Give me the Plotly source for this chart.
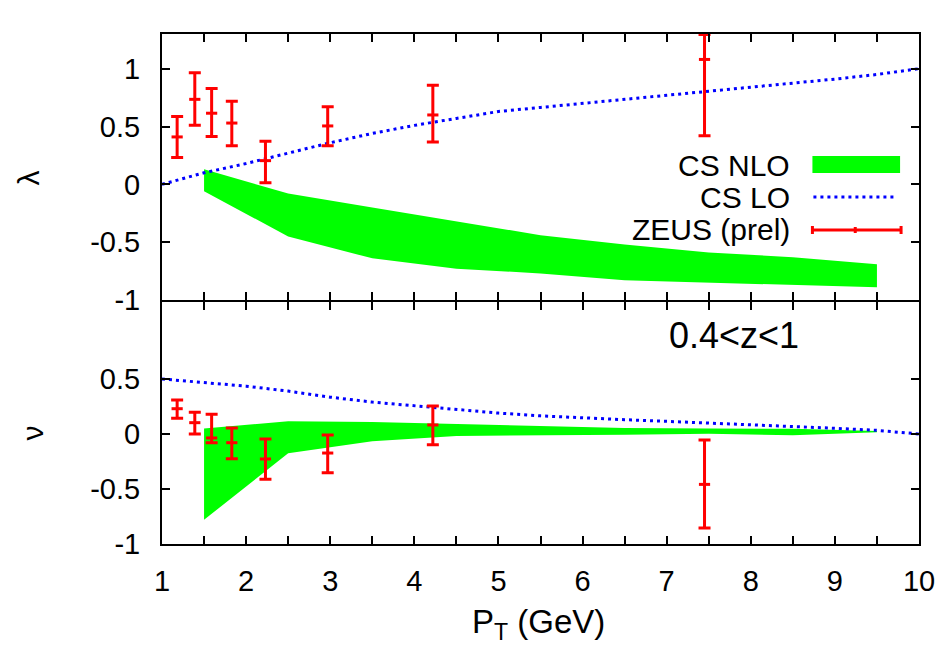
import numpy as np
import plotly.graph_objects as go

# ---------------- data ----------------
# ZEUS (prel) data points
zeus_pt = [1.18, 1.39, 1.59, 1.83, 2.23, 2.97, 4.22, 7.45]
lam_val = [0.41, 0.735, 0.615, 0.53, 0.205, 0.505, 0.60, 1.08]
lam_hi = [0.586, 0.966, 0.828, 0.718, 0.373, 0.672, 0.856, 1.296]
lam_lo = [0.233, 0.511, 0.414, 0.333, 0.014, 0.333, 0.367, 0.42]
nu_val = [0.23, 0.103, -0.036, -0.079, -0.227, -0.173, 0.082, -0.458]
nu_hi = [0.309, 0.197, 0.179, 0.055, -0.045, -0.009, 0.255, -0.055]
nu_lo = [0.143, 0.0, -0.079, -0.224, -0.412, -0.352, -0.097, -0.855]

# CS LO curves
lo_pt = [1, 1.5, 2, 2.5, 3, 3.5, 4, 4.5, 5, 5.5, 6, 6.5, 7, 7.5, 8, 8.5, 9, 9.5, 10]
lam_cslo = [0, 0.1, 0.18, 0.27, 0.36, 0.44, 0.51, 0.57, 0.63, 0.665, 0.70, 0.735,
            0.765, 0.80, 0.84, 0.875, 0.91, 0.95, 1.0]
nu_cslo = [0.5, 0.47, 0.435, 0.39, 0.335, 0.29, 0.255, 0.22, 0.19, 0.165, 0.145,
           0.13, 0.115, 0.1, 0.083, 0.068, 0.052, 0.033, 0.0]

# CS NLO bands
nlo_pt = [1.5, 2.5, 3.5, 4.5, 5.5, 6.5, 7.5, 8.5, 9.5]
lam_nlo_up = [0.13, -0.08, -0.20, -0.32, -0.44, -0.52, -0.59, -0.63, -0.69]
lam_nlo_dn = [-0.06, -0.45, -0.64, -0.73, -0.77, -0.83, -0.85, -0.87, -0.89]
nu_nlo_up = [0.05, 0.115, 0.11, 0.09, 0.075, 0.055, 0.05, 0.048, 0.027]
nu_nlo_dn = [-0.78, -0.175, -0.067, -0.018, -0.015, -0.006, 0.003, -0.012, 0.015]

x_ticks = [1, 2, 3, 4, 5, 6, 7, 8, 9, 10]
lam_ticks = [-1, -0.5, 0, 0.5, 1]
lam_tick_text = ["-1", "-0.5", "0", "0.5", "1"]
nu_ticks = [-1, -0.5, 0, 0.5]
nu_tick_text = ["-1", "-0.5", "0", "0.5"]

# ---------------- styling ----------------
W, H = 947, 647
ML, MR, MT, MB = 162, 25, 34, 103
PW, PH = W - ML - MR, H - MT - MB
FONT = "Liberation Sans"
GREEN = "#00ff00"
BLUE = "#0000ff"
RED = "#ff0000"
DOT = "3px,4px"
# bottom panel top edge at pixel 302, top panel bottom edge at pixel 300
# (axis lines are drawn outside the plot area, so both frame lines coincide)
bottom_top = 242 / PH
top_bottom = 244 / PH


def px(xp):
    return (xp - ML) / PW


def py(yp):
    return (H - MB - yp) / PH


fig = go.Figure()


def band(x, up, dn, xa, ya):
    fig.add_trace(go.Scatter(
        x=list(x) + list(x)[::-1], y=list(up) + list(dn)[::-1],
        fill="toself", fillcolor=GREEN, line=dict(width=0, color=GREEN),
        mode="lines", xaxis=xa, yaxis=ya, showlegend=False, hoverinfo="skip"))


def curve(x, y, xa, ya):
    fig.add_trace(go.Scatter(
        x=x, y=y, mode="lines", line=dict(color=BLUE, width=3, dash=DOT),
        xaxis=xa, yaxis=ya, showlegend=False))


def points(x, v, hi, lo, xa, ya):
    v = np.array(v)
    fig.add_trace(go.Scatter(
        x=x, y=v, mode="markers",
        marker=dict(symbol="line-ew", size=8, color=RED, line=dict(color=RED, width=3)),
        error_y=dict(type="data", symmetric=False, array=np.array(hi) - v,
                     arrayminus=v - np.array(lo), color=RED, thickness=3, width=6),
        xaxis=xa, yaxis=ya, showlegend=False))


# top panel (lambda)
band(nlo_pt, lam_nlo_up, lam_nlo_dn, "x2", "y2")
curve(lo_pt, lam_cslo, "x2", "y2")
points(zeus_pt, lam_val, lam_hi, lam_lo, "x2", "y2")
# bottom panel (nu)
band(nlo_pt, nu_nlo_up, nu_nlo_dn, "x", "y")
curve(lo_pt, nu_cslo, "x", "y")
points(zeus_pt, nu_val, nu_hi, nu_lo, "x", "y")

axis_common = dict(showline=True, linewidth=2, linecolor="black", mirror="ticks",
                   ticks="inside", ticklen=8, tickwidth=1.5, tickcolor="black",
                   showgrid=False, zeroline=False,
                   tickfont=dict(family=FONT, size=29, color="black"))
minor_x = dict(dtick=0.5, ticks="inside", ticklen=8, tickwidth=1.5, tickcolor="black")

fig.update_layout(
    width=W, height=H,
    margin=dict(l=ML, r=MR, t=MT, b=MB, pad=0),
    plot_bgcolor="white", paper_bgcolor="white",
    font=dict(family=FONT, size=29, color="black"),
    showlegend=False,
    xaxis=dict(range=[1, 10], anchor="y", tickvals=x_ticks, ticklabelstandoff=10,
               minor=minor_x, **axis_common),
    xaxis2=dict(range=[1, 10], anchor="y2", matches="x", tickvals=x_ticks,
                showticklabels=False, minor=minor_x, **axis_common),
    yaxis=dict(domain=[0, bottom_top], range=[-1, 1.2], tickvals=nu_ticks,
               ticktext=nu_tick_text, ticklabelstandoff=14, anchor="x", **axis_common),
    yaxis2=dict(domain=[top_bottom, 1], range=[-1, 1.3], tickvals=lam_ticks,
                ticktext=lam_tick_text, ticklabelstandoff=14, anchor="x2", **axis_common),
)

ann = []
# axis titles
ann.append(dict(text="P<sub>T</sub> (GeV)", x=px(540), y=py(624), xref="paper", yref="paper",
                showarrow=False, xanchor="center", yanchor="middle",
                font=dict(family=FONT, size=33, color="black")))
ann.append(dict(text="λ", x=px(27), y=py(178), xref="paper", yref="paper", textangle=-90,
                showarrow=False, xanchor="center", yanchor="middle",
                font=dict(family=FONT, size=30, color="black")))
ann.append(dict(text="ν", x=px(31), y=py(433), xref="paper", yref="paper", textangle=-90,
                showarrow=False, xanchor="center", yanchor="middle",
                font=dict(family=FONT, size=30, color="black")))
# z range label
ann.append(dict(text="0.4&lt;z&lt;1", x=px(736), y=py(335), xref="paper", yref="paper",
                showarrow=False, xanchor="center", yanchor="middle",
                font=dict(family=FONT, size=36, color="black")))
# legend texts
for label, yp in [("CS NLO", 165), ("CS LO", 197), ("ZEUS (prel)", 230)]:
    ann.append(dict(text=label, x=px(794), y=py(yp), xref="paper", yref="paper",
                    showarrow=False, xanchor="right", yanchor="middle",
                    font=dict(family=FONT, size=30, color="black")))
fig.update_layout(annotations=ann)

shapes = [
    dict(type="rect", xref="paper", yref="paper", x0=px(815), x1=px(903),
         y0=py(173), y1=py(156), fillcolor=GREEN, line=dict(width=0)),
    dict(type="line", xref="paper", yref="paper", x0=px(816), x1=px(900),
         y0=py(197), y1=py(197), line=dict(color=BLUE, width=3, dash=DOT)),
    dict(type="line", xref="paper", yref="paper", x0=px(815), x1=px(904),
         y0=py(230), y1=py(230), line=dict(color=RED, width=3)),
    dict(type="line", xref="paper", yref="paper", x0=px(815), x1=px(815),
         y0=py(226), y1=py(234), line=dict(color=RED, width=3)),
    dict(type="line", xref="paper", yref="paper", x0=px(904), x1=px(904),
         y0=py(226), y1=py(234), line=dict(color=RED, width=3)),
    dict(type="line", xref="paper", yref="paper", x0=px(858), x1=px(858),
         y0=py(227), y1=py(233), line=dict(color=RED, width=3)),
]
fig.update_layout(shapes=shapes)

fig.write_html("out.html")
